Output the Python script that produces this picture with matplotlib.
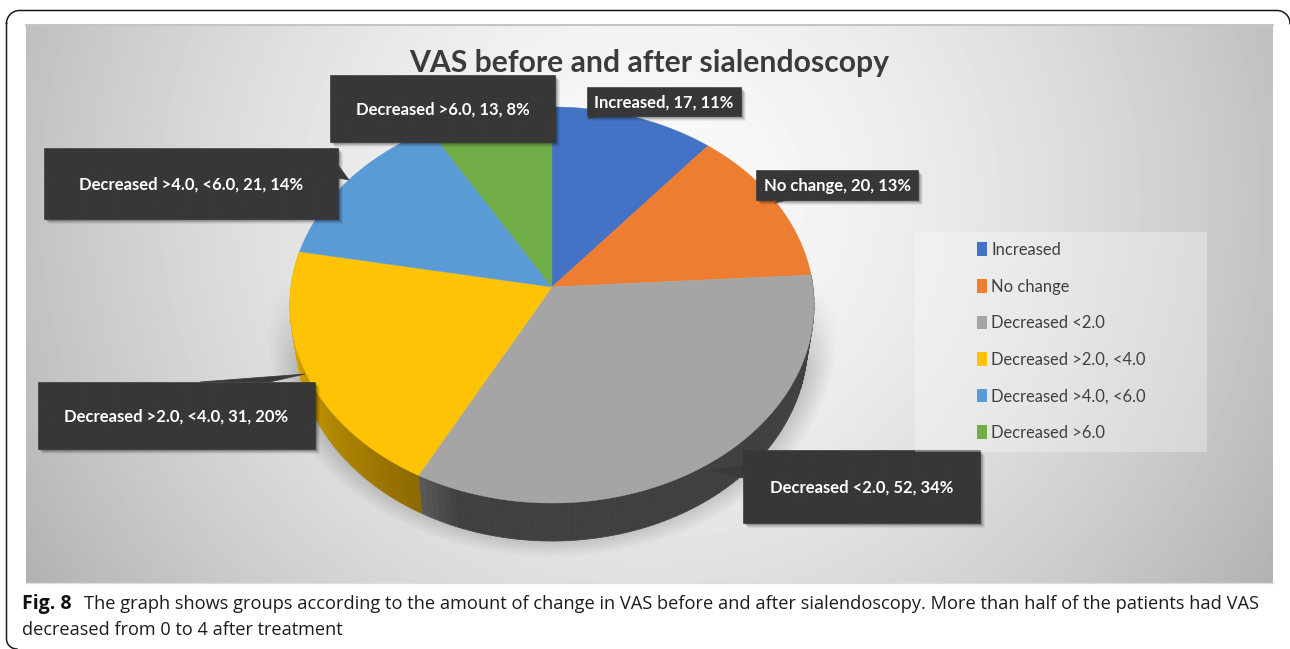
import numpy as np
import matplotlib
matplotlib.use("Agg")
import matplotlib.pyplot as plt
from matplotlib.patches import Polygon, Rectangle, Patch
from matplotlib.collections import PolyCollection

# ---------------------------
# Data
# ---------------------------
categories = ["Increased", "No change", "Decreased <2.0", "Decreased >2.0, <4.0",
              "Decreased >4.0, <6.0", "Decreased >6.0"]
counts = [17, 20, 52, 31, 21, 13]
percents = [11, 13, 34, 20, 14, 8]
colors = ["#4472c4", "#ed7d31", "#a5a5a5", "#ffc305", "#5b9bd5", "#70ad47"]

title = "VAS before and after sialendoscopy"
caption1 = "The graph shows groups according to the amount of change in VAS before and after sialendoscopy. More than half of the patients had VAS"
caption2 = "decreased from 0 to 4 after treatment"

W, H = 1290, 649

fig = plt.figure(figsize=(W / 100, H / 100), dpi=100, facecolor="white")
ax = fig.add_axes([0, 0, 1, 1])
ax.set_xlim(0, W)
ax.set_ylim(H, 0)
ax.axis("off")

# pie geometry, tilted disc with the apex off the ellipse centre
CX, CY = 552, 287
RX, RY, K = 261, 196.4, 0.0909
DEPTH = 38
BOTTOM_SCALE = 0.975


def project(theta, scale=1.0):
    """theta clockwise from 12 o'clock -> pixel coords on the rim."""
    sx, sy = np.sin(theta), -np.cos(theta)
    d = 1 - K * sy
    return CX + scale * RX * sx / d, CY + RY * sy / d


# ---------------------------
# Background panel with gradient and pie shadow
# ---------------------------
px0, px1, py0, py1 = 26, 1273, 25, 583
yy, xx = np.mgrid[py0:py1, px0:px1]
r = np.sqrt(((xx - 650) / 720.0) ** 2 + ((yy - 200) / 700.0) ** 2)
grey = 250 - 70 * np.clip(r, 0, 1.3) ** 1.6

# soft shadow below and around the disc
ex = (xx - 552) / 285.0
ey = (yy - 335) / 222.0
er = np.sqrt(ex ** 2 + ey ** 2)
shadow = np.clip((1.0 - er) / 0.12, 0, 1) * np.clip((yy - 280) / 90.0, 0, 1)
grey = grey - 55 * shadow
panel = np.clip(grey, 0, 255) / 255.0
ax.imshow(panel, extent=(px0, px1, py1, py0), cmap="gray", vmin=0, vmax=1,
          aspect="auto", zorder=0, interpolation="bilinear")
ax.set_xlim(0, W)
ax.set_ylim(H, 0)
ax.plot([px0, px1], [py0, py0], color="#c4c4c4", lw=1.5, zorder=1)
ax.plot([px0, px1], [py1, py1], color="#dddddd", lw=1, zorder=1)

# outer card, only the part inside the crop
a = np.linspace(0, np.pi / 2, 20)
card_x = np.r_[17 - 10.5 * np.cos(a[::-1]) * 1, 6.5, 19.5 - 13 * np.cos(a), 1277 + 13 * np.sin(a)]
card_y = np.r_[639 + 10 * np.sin(a[::-1]), 23, 23.5 - 13 * np.sin(a), 23.5 - 13 * np.cos(a)]
ax.plot(card_x, card_y, color="#1a1a1a", lw=1.1, zorder=1)

# ---------------------------
# Pie, side wall first and then the top face
# ---------------------------
fractions = np.array(counts) / sum(counts)
edges = np.concatenate([[0], np.cumsum(fractions)]) * 2 * np.pi

# yellow side goes from gold to dark towards the front, gray side is dark
quads, quad_cols = [], []
for i in [2, 3]:
    th = np.linspace(edges[i], edges[i + 1], 90)
    for t0, t1 in zip(th[:-1], th[1:]):
        xa, ya = project(t0)
        xb, yb = project(t1)
        xa2, ya2 = project(t0, BOTTOM_SCALE)
        xb2, yb2 = project(t1, BOTTOM_SCALE)
        quads.append([(xa, ya), (xb, yb), (xb2, yb2 + DEPTH), (xa2, ya2 + DEPTH)])
        t = (t0 - edges[i]) / (edges[i + 1] - edges[i])
        if i == 2:
            g = 0x40 + 0x1c * np.clip((t - 0.92) / 0.08, 0, 1)
            quad_cols.append((g / 255, g / 255, g / 255))
        else:
            s = np.clip(t / 0.75, 0, 1)
            quad_cols.append(((0x8c + (0xdd - 0x8c) * s) / 255,
                              (0x6a + (0xa8 - 0x6a) * s) / 255, 0))
ax.add_collection(PolyCollection(quads, facecolors=quad_cols, edgecolors=quad_cols,
                                 linewidths=0.5, zorder=2))

for i, c in enumerate(colors):
    th = np.linspace(edges[i], edges[i + 1], 120)
    rx, ry = project(th)
    pts = np.column_stack([np.r_[CX, rx], np.r_[CY, ry]])
    ax.add_patch(Polygon(pts, closed=True, fc=c, ec=c, lw=0.3, zorder=3))

# ---------------------------
# Data callouts
# ---------------------------
label_boxes = [(587, 87, 741, 116), (756, 170, 918, 200), (743, 450, 980, 523),
               (38, 382, 315, 449), (44, 148, 338, 219), (330, 75, 555, 142)]
label_tips = [[(600, 116), (588, 119), (590, 116)],
              [(795, 198), (775, 203), (780, 198)],
              [(743, 466), (710, 470), (743, 478)],
              [(200, 382), (305, 374), (270, 382)],
              [(338, 165), (349, 180), (338, 178)],
              [(470, 142), (470, 142), (470, 142)]]
BOX = "#3a3a3a"
for name, n, pct, (x0, y0, x1, y1), tip in zip(categories, counts, percents, label_boxes, label_tips):
    for off, al in [(5, 0.06), (4, 0.08), (3, 0.12), (2, 0.16)]:
        ax.add_patch(Rectangle((x0 + off, y0 + off), x1 - x0, y1 - y0, fc="black", ec="none",
                               alpha=al, zorder=4))
    ax.add_patch(Polygon(tip, closed=True, fc=BOX, ec=BOX, lw=0.5, zorder=5))
    ax.add_patch(Rectangle((x0, y0), x1 - x0, y1 - y0, fc=BOX, ec="#333333", lw=0.4,
                           hatch="......", zorder=5))
    ax.text((x0 + x1) / 2, (y0 + y1) / 2 + 1.5, f"{name}, {n}, {pct}%", color="white",
            family="Lato", weight="bold", fontsize=12, ha="center", va="center", zorder=6)

ax.text(649, 63, title, color="#3b3b3b", family="Lato", weight="bold", fontsize=21.7,
        ha="center", va="center", zorder=3.5)

# ---------------------------
# Legend
# ---------------------------
ax.add_patch(Rectangle((915, 232), 292, 220, fc="white", ec="none", alpha=0.3, zorder=6))
handles = [Patch(facecolor=c, edgecolor="none") for c in colors]
leg = ax.legend(handles, categories, loc="upper left", bbox_to_anchor=(977, 242),
                bbox_transform=ax.transData, frameon=False, ncol=1, borderpad=0, borderaxespad=0,
                handlelength=0.62, handleheight=0.9, handletextpad=0.24, labelspacing=1.245,
                prop={"family": "Lato", "size": 11.9}, labelcolor="#404040")
leg.set_zorder(7)

# ---------------------------
# Caption
# ---------------------------
ax.text(22, 604, "Fig. 8", family="Open Sans", weight="bold", fontsize=14, color="#111111",
        ha="left", va="center", zorder=8)
ax.text(84, 604, caption1, family="Open Sans", fontsize=13.18, color="#1c1c1c",
        ha="left", va="center", zorder=8)
ax.text(22, 630, caption2, family="Open Sans", fontsize=13.05, color="#1c1c1c",
        ha="left", va="center", zorder=8)

fig.savefig("out.png", dpi=100, facecolor="white")
